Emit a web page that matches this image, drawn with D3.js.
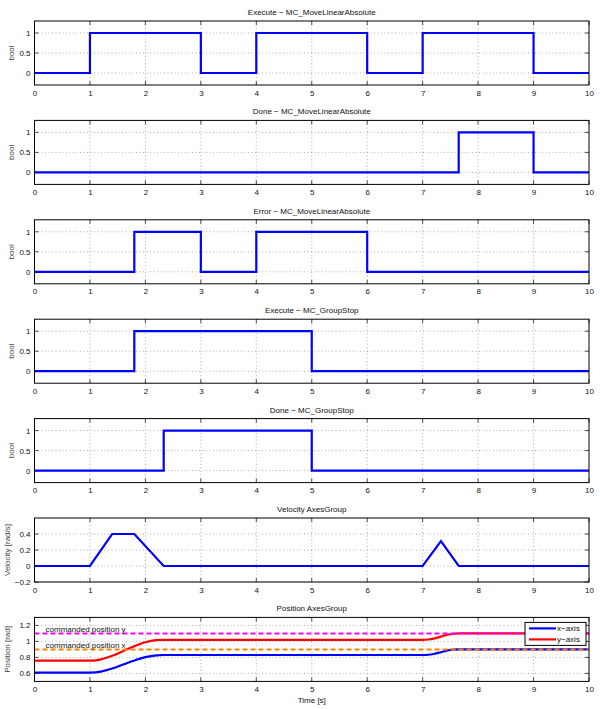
<!DOCTYPE html>
<html>
<head>
<meta charset="utf-8">
<script src="https://cdn.jsdelivr.net/npm/d3@7"></script>
<style>
body { margin: 0; background: #fff; }
text { font-family: "Liberation Sans", Arial, sans-serif; }
</style>
</head>
<body>
<div id="chart"></div>
<script>
var width = 600;
var height = 709;
var leftOffset = 34.5;
var rightEdge = 589;
var panelTop = 21;
var panelStep = 99.4;
var panelHeight = 64;

// step signals: [time, value] change points
var executeMove = [[0, 0], [1, 1], [3, 0], [4, 1], [6, 0], [7, 1], [9, 0], [10, 0]];
var doneMove = [[0, 0], [7.65, 1], [9, 0], [10, 0]];
var errorMove = [[0, 0], [1.8, 1], [3, 0], [4, 1], [6, 0], [10, 0]];
var executeStop = [[0, 0], [1.8, 1], [5, 0], [10, 0]];
var doneStop = [[0, 0], [2.33, 1], [5, 0], [10, 0]];

// velocity of axes group
var velTime = [0, 1, 1.4, 1.8, 2.33, 7, 7.33, 7.65, 10];
var velValue = [0, 0, 0.4, 0.4, 0, 0, 0.31, 0, 0];

// position of axes
var posTime = [0, 1, 1.1, 1.2, 1.4, 1.6, 1.8, 2.0, 2.2, 2.33, 7, 7.1, 7.2, 7.33, 7.45, 7.55, 7.65, 10];
var posX = [0.61, 0.61, 0.612, 0.623, 0.661, 0.711, 0.762, 0.804, 0.826, 0.83, 0.83, 0.833, 0.843, 0.865, 0.887, 0.897, 0.90, 0.90];
var posY = [0.76, 0.76, 0.763, 0.775, 0.82, 0.88, 0.94, 0.989, 1.015, 1.02, 1.02, 1.024, 1.035, 1.06, 1.085, 1.096, 1.10, 1.10];
var cmdX = 0.9;
var cmdY = 1.1;

var xTicks = [0, 1, 2, 3, 4, 5, 6, 7, 8, 9, 10];
var boolTicks = [0, 0.5, 1];
var velTicks = [-0.2, 0, 0.2, 0.4];
var posTicks = [0.6, 0.8, 1, 1.2];

var panels = [
    {title: "Execute \u2212 MC_MoveLinearAbsolute", ylabel: "bool", domain: [-0.3, 1.3], ticks: boolTicks, steps: executeMove},
    {title: "Done \u2212 MC_MoveLinearAbsolute", ylabel: "bool", domain: [-0.3, 1.3], ticks: boolTicks, steps: doneMove},
    {title: "Error \u2212 MC_MoveLinearAbsolute", ylabel: "bool", domain: [-0.3, 1.3], ticks: boolTicks, steps: errorMove},
    {title: "Execute \u2212 MC_GroupStop", ylabel: "bool", domain: [-0.3, 1.3], ticks: boolTicks, steps: executeStop},
    {title: "Done \u2212 MC_GroupStop", ylabel: "bool", domain: [-0.3, 1.3], ticks: boolTicks, steps: doneStop},
    {title: "Velocity AxesGroup", ylabel: "Velocity [rad/s]", domain: [-0.2, 0.6], ticks: velTicks},
    {title: "Position AxesGroup", ylabel: "Position [rad]", domain: [0.5, 1.3], ticks: posTicks}
];

var svg = d3.select("#chart").append("svg")
    .attr("width", width)
    .attr("height", height);

var xScale = d3.scaleLinear().domain([0, 10]).range([leftOffset, rightEdge]);

function fmt(v) {
    return String(v).replace("-", "\u2212");
}

panels.forEach(function (p, i) {
    var top = panelTop + panelStep * i;
    var bottom = top + panelHeight;
    var yScale = d3.scaleLinear().domain(p.domain).range([bottom, top]);
    var g = svg.append("g");

    // grid
    g.selectAll(".vgrid").data(xTicks.slice(1, -1)).enter().append("line")
        .attr("x1", function (d) { return xScale(d); })
        .attr("x2", function (d) { return xScale(d); })
        .attr("y1", top).attr("y2", bottom)
        .attr("stroke", "#999").attr("stroke-width", 0.8)
        .attr("stroke-dasharray", "1,2.5");
    g.selectAll(".hgrid").data(p.ticks).enter().append("line")
        .attr("x1", leftOffset).attr("x2", rightEdge)
        .attr("y1", function (d) { return yScale(d); })
        .attr("y2", function (d) { return yScale(d); })
        .attr("stroke", "#999").attr("stroke-width", 0.8)
        .attr("stroke-dasharray", "1,2.5");

    // axes
    var xAxis = d3.axisBottom(xScale).tickValues(xTicks).tickSize(0).tickPadding(5).tickFormat(fmt);
    var ax = g.append("g").attr("transform", "translate(0," + bottom + ")").call(xAxis);
    ax.select(".domain").remove();
    var yAxis = d3.axisLeft(yScale).tickValues(p.ticks).tickSize(0).tickPadding(4).tickFormat(fmt);
    var ay = g.append("g").attr("transform", "translate(" + leftOffset + ",0)").call(yAxis);
    ay.select(".domain").remove();
    g.selectAll(".tick text").attr("font-size", 8).attr("fill", "#111")
        .attr("font-family", "Liberation Sans, Arial, sans-serif");

    // tick marks inside the box
    xTicks.forEach(function (t) {
        g.append("line").attr("x1", xScale(t)).attr("x2", xScale(t))
            .attr("y1", bottom).attr("y2", bottom - 4).attr("stroke", "#222").attr("stroke-width", 0.8);
        g.append("line").attr("x1", xScale(t)).attr("x2", xScale(t))
            .attr("y1", top).attr("y2", top + 4).attr("stroke", "#222").attr("stroke-width", 0.8);
    });
    p.ticks.forEach(function (t) {
        g.append("line").attr("x1", leftOffset).attr("x2", leftOffset + 4)
            .attr("y1", yScale(t)).attr("y2", yScale(t)).attr("stroke", "#222").attr("stroke-width", 0.8);
        g.append("line").attr("x1", rightEdge).attr("x2", rightEdge - 4)
            .attr("y1", yScale(t)).attr("y2", yScale(t)).attr("stroke", "#222").attr("stroke-width", 0.8);
    });

    // data
    if (p.steps) {
        var stepLine = d3.line().curve(d3.curveStepAfter)
            .x(function (d) { return xScale(d[0]); })
            .y(function (d) { return yScale(d[1]); });
        g.append("path").datum(p.steps).attr("d", stepLine)
            .attr("fill", "none").attr("stroke", "#0000ff").attr("stroke-width", 2.2);
    } else if (i === 5) {
        var velLine = d3.line()
            .x(function (d) { return xScale(d); })
            .y(function (d, k) { return yScale(velValue[k]); });
        g.append("path").datum(velTime).attr("d", velLine)
            .attr("fill", "none").attr("stroke", "#0000ff").attr("stroke-width", 2.2);
    } else {
        var posLine = function (vals) {
            return d3.line().curve(d3.curveMonotoneX)
                .x(function (d) { return xScale(d); })
                .y(function (d, k) { return yScale(vals[k]); });
        };
        g.append("path").datum(posTime).attr("d", posLine(posX))
            .attr("fill", "none").attr("stroke", "#0000ff").attr("stroke-width", 2.2);
        g.append("path").datum(posTime).attr("d", posLine(posY))
            .attr("fill", "none").attr("stroke", "#ff0000").attr("stroke-width", 2.2);
        g.append("line").attr("x1", leftOffset).attr("x2", rightEdge)
            .attr("y1", yScale(cmdY)).attr("y2", yScale(cmdY))
            .attr("stroke", "#ff00ff").attr("stroke-width", 2).attr("stroke-dasharray", "5,3");
        g.append("line").attr("x1", leftOffset).attr("x2", rightEdge)
            .attr("y1", yScale(cmdX)).attr("y2", yScale(cmdX))
            .attr("stroke", "#ff8000").attr("stroke-width", 2).attr("stroke-dasharray", "5,3");
        g.append("text").attr("x", xScale(0.2)).attr("y", yScale(cmdY) - 1.5)
            .attr("font-size", 8).attr("fill", "#111").text("commanded position y");
        g.append("text").attr("x", xScale(0.2)).attr("y", yScale(cmdX) - 1.5)
            .attr("font-size", 8).attr("fill", "#111").text("commanded position x");

        // legend
        var lg = g.append("g").attr("transform", "translate(525," + (top + 5) + ")");
        lg.append("rect").attr("width", 61).attr("height", 23)
            .attr("fill", "#fff").attr("stroke", "#000").attr("stroke-width", 1);
        [["x\u2212axis", "#0000ff"], ["y\u2212axis", "#ff0000"]].forEach(function (e, k) {
            var yy = 6 + k * 11;
            lg.append("line").attr("x1", 4).attr("x2", 31).attr("y1", yy).attr("y2", yy)
                .attr("stroke", e[1]).attr("stroke-width", 2.2);
            lg.append("text").attr("x", 32).attr("y", yy + 3).attr("font-size", 8)
                .attr("fill", "#111").text(e[0]);
        });

        svg.append("text").attr("x", (leftOffset + rightEdge) / 2).attr("y", bottom + 22)
            .attr("text-anchor", "middle").attr("font-size", 8).attr("fill", "#111").text("Time [s]");
    }

    // box
    g.append("rect").attr("x", leftOffset).attr("y", top)
        .attr("width", rightEdge - leftOffset).attr("height", panelHeight)
        .attr("fill", "none").attr("stroke", "#000").attr("stroke-width", 1);

    // title and y label
    svg.append("text").attr("x", (leftOffset + rightEdge) / 2).attr("y", top - 6)
        .attr("text-anchor", "middle").attr("font-size", 8).attr("fill", "#111").text(p.title);
    svg.append("text")
        .attr("transform", "translate(" + (i >= 5 ? 10 : 14) + "," + (top + panelHeight / 2) + ") rotate(-90)")
        .attr("text-anchor", "middle").attr("font-size", 8).attr("fill", "#444").text(p.ylabel);
});
</script>
</body>
</html>
